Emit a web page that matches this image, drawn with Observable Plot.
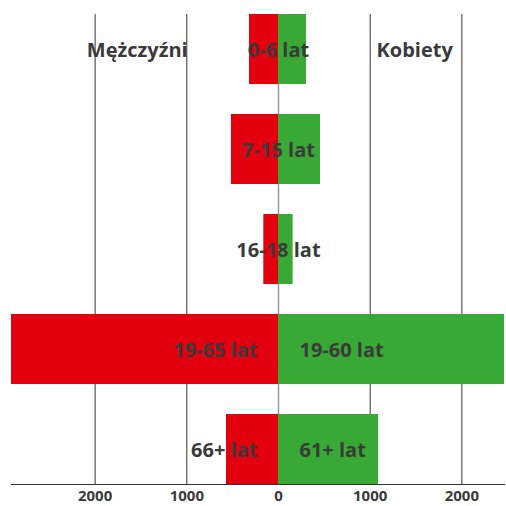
<!DOCTYPE html>
<html>
<head>
<meta charset="utf-8">
<script src="https://cdn.jsdelivr.net/npm/d3@7"></script>
<script src="https://cdn.jsdelivr.net/npm/@observablehq/plot@0.6"></script>
<style>
  html, body { margin: 0; padding: 0; background: #fff; }
  #chart svg { display: block; }
</style>
</head>
<body>
<div id="chart"></div>
<script>
const agesMen = ["0-6 lat", "7-15 lat", "16-18 lat", "19-65 lat", "66+ lat"];
const agesWomen = ["0-6 lat", "7-15 lat", "16-18 lat", "19-60 lat", "61+ lat"];
const men = [316, 513, 160, 2912, 567];
const women = [305, 458, 160, 2465, 1091];
const sideLabels = ["Mężczyźni", "Kobiety"];
const xTicks = [-2000, -1000, 0, 1000, 2000];

const rows = agesMen.map((a, i) => ({
  row: i, ageM: a, ageF: agesWomen[i], men: men[i], women: women[i]
}));
const shared = rows.filter(d => d.ageM === d.ageF);
const split = rows.filter(d => d.ageM !== d.ageF);

const red = "#e2000f";
const green = "#39a935";
const ink = "#3a3a3a";
const font = "'Open Sans', 'Noto Sans', sans-serif";
const fs = 20;

const chart = Plot.plot({
  width: 506,
  height: 506,
  marginLeft: 11,
  marginRight: 2,
  marginTop: 14,
  marginBottom: 22,
  style: { fontFamily: font, background: "#fff" },
  x: { domain: [-2912, 2465], axis: null },
  y: { domain: rows.map(d => d.row), paddingInner: 0.3, paddingOuter: 0, axis: null },
  marks: [
    Plot.ruleX(xTicks.filter(t => t !== 0), { stroke: "#333", strokeWidth: 1 }),
    Plot.ruleX([0], { stroke: "#999", strokeWidth: 1.5 }),
    Plot.barX(rows, { y: "row", x1: 0, x2: d => -d.men, fill: red }),
    Plot.barX(rows, { y: "row", x1: 0, x2: d => d.women, fill: green }),
    Plot.frame({ anchor: "bottom", stroke: "#333", strokeWidth: 1 }),
    Plot.axisX({
      ticks: xTicks, tickSize: 0, tickPadding: 6,
      tickFormat: d => String(Math.abs(d)),
      fontSize: 15, fontWeight: "bold", fill: ink, fontFamily: font
    }),
    Plot.text(shared, {
      y: "row", x: 0, dy: 1, text: "ageM", textAnchor: "middle",
      fontSize: fs, fontWeight: "bold", fill: ink, fontFamily: font
    }),
    Plot.text(split, {
      y: "row", x: 0, dx: -21, dy: 1, text: "ageM", textAnchor: "end",
      fontSize: fs, fontWeight: "bold", fill: ink, fontFamily: font
    }),
    Plot.text(split, {
      y: "row", x: 0, dx: 21, dy: 1, text: "ageF", textAnchor: "start",
      fontSize: fs, fontWeight: "bold", fill: ink, fontFamily: font
    }),
    Plot.text(sideLabels, {
      y: () => 0, x: (d, i) => (i === 0 ? -1540 : 1485), dy: 1, text: d => d,
      textAnchor: "middle",
      fontSize: fs, fontWeight: "bold", fill: ink, fontFamily: font
    })
  ]
});
document.getElementById("chart").appendChild(chart);
</script>
</body>
</html>
